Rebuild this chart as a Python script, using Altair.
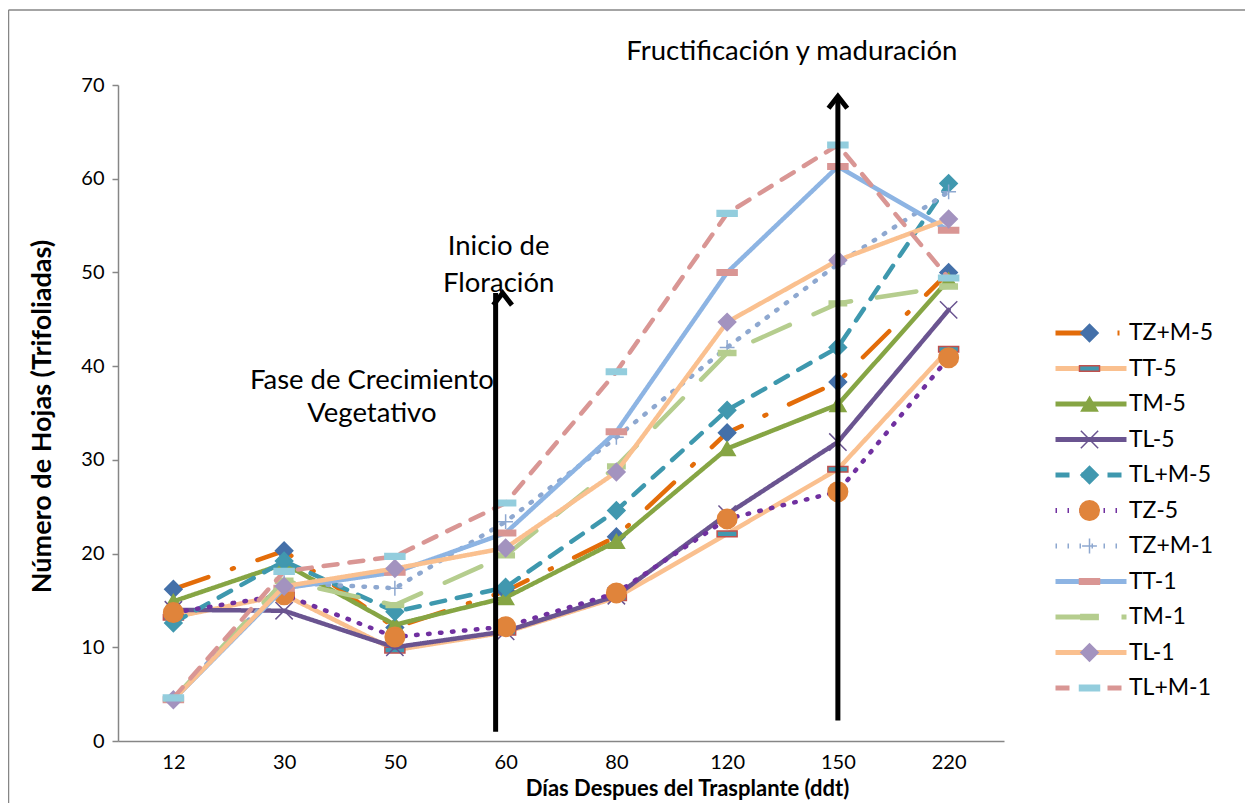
import altair as alt
import pandas as pd

# ---------------- data ----------------
dias = ["12", "30", "50", "60", "80", "120", "150", "220"]
series = ["TZ+M-5", "TT-5", "TM-5", "TL-5", "TL+M-5", "TZ-5",
          "TZ+M-1", "TT-1", "TM-1", "TL-1", "TL+M-1"]

tzm5 = [16.2, 20.3, 12.1, 16.0, 21.8, 32.9, 38.3, 50.0]
tt5 = [13.2, 15.6, 9.7, 11.6, 15.3, 22.1, 29.0, 41.8]
tm5 = [14.9, 18.9, 12.4, 15.3, 21.3, 31.2, 35.9, 49.2]
tl5 = [14.0, 13.9, 10.0, 11.7, 15.5, 24.2, 31.9, 46.0]
tlm5 = [12.6, 19.2, 13.8, 16.4, 24.6, 35.3, 42.0, 59.5]
tz5 = [13.7, 15.6, 11.1, 12.2, 15.8, 23.7, 26.6, 40.9]
tzm1 = [4.5, 16.9, 16.3, 23.4, 32.4, 42.0, 50.9, 58.6]
tt1 = [4.4, 16.3, 18.0, 22.2, 33.0, 50.0, 61.3, 54.5]
tm1 = [4.5, 17.1, 14.5, 19.8, 29.3, 41.4, 46.7, 48.5]
tl1 = [4.4, 16.5, 18.4, 20.6, 28.7, 44.7, 51.3, 55.7]
tlm1 = [4.6, 18.1, 19.7, 25.4, 39.4, 56.3, 63.6, 49.4]
values = [tzm5, tt5, tm5, tl5, tlm5, tz5, tzm1, tt1, tm1, tl1, tlm1]

annot_text = ["Fructificación y maduración", "Inicio de", "Floración",
              "Fase de Crecimiento", "Vegetativo"]
annot_dia = ["150", "60", "60", "50", "50"]
annot_val = [73.5, 52.7, 48.8, 38.4, 34.9]

arrow_dia = ["60", "150"]
arrow_from = [1.0, 2.2]
arrow_to = [47.8, 68.8]

# ---------------- styles ----------------
FONT = "Lato"
line_colors = ["#E36C09", "#FAC08F", "#86A544", "#6A5490", "#3E98AE", "#7030A0",
               "#8EA8D0", "#8DB4E3", "#B5CD8E", "#FAC08F", "#D99694"]
dashes = [[37, 25, 2, 25], [1, 0], [1, 0], [1, 0], [14, 12], [1.5, 10.5],
          [1.5, 10.5], [1, 0], [40, 26], [1, 0], [14, 12]]
RECT = "M-1,-0.28L1,-0.28L1,0.28L-1,0.28Z"
XSH = "M-1,-1L1,1M-1,1L1,-1"
PLUS = "M-1,0L1,0M0,-1L0,1"
marker_shapes = ["diamond", RECT, "triangle-up", XSH, "diamond", "circle",
                 PLUS, RECT, RECT, "diamond", RECT]
marker_fill = ["#4470A9", "#4198AF", "#86A544", "transparent", "#4198AF", "#E0843B",
               "transparent", "#D99694", "#B5CD8E", "#A393BF", "#93CDDD"]
marker_stroke = ["#4470A9", "#C0504D", "#86A544", "#6A5490", "#4198AF", "#E0843B",
                 "#8EA8D0", "#D99694", "#B5CD8E", "#A393BF", "#93CDDD"]
marker_size = [300, 400, 260, 300, 300, 380, 220, 400, 300, 300, 400]

# marker keys differ from line keys so that the two legends stay separate
series_m = [s + " " for s in series]

rows = []
for s, sm, v in zip(series, series_m, values):
    for d, y in zip(dias, v):
        rows.append({"serie": s, "serie_m": sm, "dia": d, "hojas": y})
df = pd.DataFrame(rows)

x_enc = alt.X("dia:N", sort=dias,
              scale=alt.Scale(type="point", padding=0.5, domain=dias),
              axis=alt.Axis(labelAngle=0, ticks=False, tickSize=0, domainColor="#868686",
                            domainWidth=1.5, labelFont=FONT, labelFontSize=20,
                            labelColor="black", labelPadding=11,
                            title="Días Despues del Trasplante (ddt)", titleFont=FONT,
                            titleFontSize=22, titleFontWeight="bold", titleColor="black",
                            titleAlign="center", titleBaseline="middle",
                            titleX=569, titleY=47))
y_enc = alt.Y("hojas:Q", scale=alt.Scale(domain=[0, 70], nice=False),
              axis=alt.Axis(values=[0, 10, 20, 30, 40, 50, 60, 70], grid=False,
                            tickSize=6, tickColor="#868686", domainColor="#868686",
                            domainWidth=1.5, tickWidth=1.5, labelFont=FONT,
                            labelFontSize=20, labelColor="black", labelPadding=8,
                            title="Número de Hojas (Trifoliadas)", titleFont=FONT,
                            titleFontSize=27, titleFontWeight="bold", titleColor="black",
                            titleAngle=-90, titleX=-76, titleY=331, titleAlign="center",
                            titleBaseline="middle"))

legend_lines = alt.Legend(orient="none", legendX=935, legendY=233, title=None,
                          symbolType="stroke", symbolSize=5041, symbolStrokeWidth=5,
                          clipHeight=30, rowPadding=5.5, labelFont=FONT,
                          labelFontSize=23, labelColor="black", labelOffset=0,
                          padding=0)
legend_marks = alt.Legend(orient="none", legendX=960, legendY=233, title=None,
                          clipHeight=30, rowPadding=5.5, labelFont=FONT,
                          labelFontSize=23, labelExpr="''", labelOpacity=0,
                          symbolStrokeWidth=1.5, symbolOpacity=1, labelOffset=0,
                          padding=0)

color_enc = alt.Color("serie:N", scale=alt.Scale(domain=series, range=line_colors),
                      legend=legend_lines)
dash_enc = alt.StrokeDash("serie:N", scale=alt.Scale(domain=series, range=dashes),
                          legend=legend_lines)
fill_enc = alt.Fill("serie_m:N", scale=alt.Scale(domain=series_m, range=marker_fill),
                    legend=legend_marks)
stroke_enc = alt.Stroke("serie_m:N", scale=alt.Scale(domain=series_m, range=marker_stroke),
                        legend=legend_marks)
shape_enc = alt.Shape("serie_m:N", scale=alt.Scale(domain=series_m, range=marker_shapes),
                      legend=legend_marks)
size_enc = alt.Size("serie_m:N", scale=alt.Scale(type="ordinal", domain=series_m,
                                                 range=marker_size),
                    legend=legend_marks)

layers = []
for s in series:
    sub = df[df["serie"] == s]
    base = alt.Chart(sub)
    layers.append(base.mark_line(strokeWidth=4.5, strokeCap="round",
                                 strokeJoin="round").encode(
        x=x_enc, y=y_enc, color=color_enc, strokeDash=dash_enc))
    layers.append(base.mark_point(opacity=1, strokeWidth=1.5).encode(
        x=x_enc, y=y_enc, fill=fill_enc, stroke=stroke_enc, shape=shape_enc,
        size=size_enc))

# arrows
arrow_df = pd.DataFrame({"dia": arrow_dia, "y0": arrow_from, "y1": arrow_to})
arrow_offsets = [(-10, -3), (0, 0)]
for i in range(len(arrow_dia)):
    a = alt.Chart(arrow_df.iloc[[i]])
    layers.append(a.mark_rule(color="black", strokeWidth=5,
                              xOffset=arrow_offsets[i][0],
                              x2Offset=arrow_offsets[i][1]).encode(
        x=x_enc, y=alt.Y("y0:Q", scale=alt.Scale(domain=[0, 70], nice=False)),
        y2=alt.Y2("y1:Q")))
    layers.append(a.mark_point(shape="M-0.85,1.1L0,0L0.85,1.1", size=484, filled=False,
                               color="black", strokeWidth=5, opacity=1,
                               xOffset=arrow_offsets[i][1], strokeJoin="miter").encode(
        x=x_enc, y=alt.Y("y1:Q", scale=alt.Scale(domain=[0, 70], nice=False))))

# annotations
annot_df = pd.DataFrame({"dia": annot_dia, "hojas": annot_val, "txt": annot_text})
annot_dx = [-46, -7, -7, -23, -23]
for i in range(len(annot_text)):
    layers.append(alt.Chart(annot_df.iloc[[i]]).mark_text(
        font=FONT, fontSize=27.5, color="black", align="center", baseline="middle",
        dx=annot_dx[i]).encode(x=x_enc, y=y_enc, text="txt:N"))

# outer frame of the chart area
frame = pd.DataFrame({"k": [0]})
layers.append(alt.Chart(frame).mark_rule(color="#868686", strokeWidth=1.5).encode(
    x=alt.value(-109.5), y=alt.value(-75), y2=alt.value(760)))
layers.append(alt.Chart(frame).mark_rule(color="#868686", strokeWidth=1.5).encode(
    x=alt.value(-109.5), x2=alt.value(1140), y=alt.value(-75)))

chart = alt.layer(*layers).properties(
    width=886, height=656,
    autosize=alt.AutoSizeParams(type="none"),
    padding={"left": 110, "top": 77, "right": 241, "bottom": 62},
    background="white",
).configure_view(stroke=None)

chart.save("out.html", embed_options={"renderer": "svg", "actions": False})
